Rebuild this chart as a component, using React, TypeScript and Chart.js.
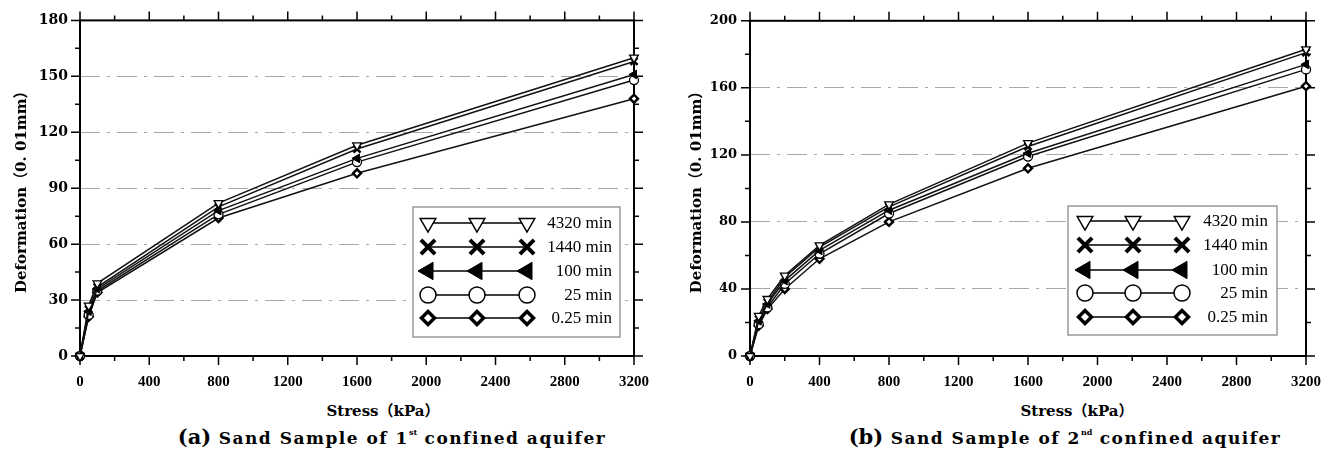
import React, { useEffect, useRef } from 'react';
import { Chart, registerables } from 'chart.js';
import { drawPoint } from 'chart.js/helpers';

Chart.register(...registerables);

// ---------- data ----------
const seriesLabels = ['4320 min', '1440 min', '100 min', '25 min', '0.25 min'];

const leftStress = [0, 50, 100, 800, 1600, 3200];
const left4320 = [0, 27, 39, 82, 113, 160];
const left1440 = [0, 25, 37, 80, 111, 158];
const left100 = [0, 24, 36, 78, 106, 151];
const left25 = [0, 22, 35, 76, 104, 148];
const left025 = [0, 21, 34, 74, 98, 138];

const rightStress = [0, 50, 100, 200, 400, 800, 1600, 3200];
const right4320 = [0, 24, 34, 48, 66, 90.5, 127, 183];
const right1440 = [0, 22, 32, 47, 65, 89, 125, 181];
const right100 = [0, 21, 31, 45, 63, 87, 121, 174];
const right25 = [0, 19, 29, 43, 61, 85, 119, 171];
const right025 = [0, 18, 28, 40, 58, 80, 112, 161];

const xTickStep = 400;
const xMax = 3200;
const leftYMax = 180;
const leftYStep = 30;
const rightYMax = 200;
const rightYStep = 40;

const yTitle = 'Deformation（0. 01mm）';
const xTitle = 'Stress（kPa）';

// ---------- styles ----------
const markers = [
  { style: 'triangle', rot: 180, fill: '#fff', bw: 1.3, r: 5, lr: 9, lbw: 1.5 },
  { style: 'crossRot', rot: 0, fill: '#000', bw: 2.6, r: 5, lr: 10, lbw: 4 },
  { style: 'triangle', rot: 270, fill: '#000', bw: 1, r: 5, lr: 10, lbw: 1 },
  { style: 'circle', rot: 0, fill: '#fff', bw: 1.3, r: 4.5, lr: 8, lbw: 1.5 },
  { style: 'rectRot', rot: 0, fill: '#fff', bw: 2.4, r: 4, lr: 6.5, lbw: 3.5 },
];

const SERIF_WIDE = "'DejaVu Serif', 'Noto Sans CJK SC', serif";
const SERIF = "'Liberation Serif', 'Times New Roman', serif";

const framePlugin = {
  id: 'frame',
  beforeDatasetsDraw(chart: any, _args: any, opts: any) {
    const { ctx, chartArea: a, scales } = chart;
    const x = scales.x;
    const y = scales.y;
    ctx.save();
    ctx.strokeStyle = '#000';
    ctx.lineWidth = 1.5;
    ctx.setLineDash([]);
    ctx.beginPath();
    const xm = opts.xMinor;
    for (let i = 0; i * xm <= x.max + 1e-9; i++) {
      const px = x.getPixelForValue(i * xm);
      const len = i % 2 === 0 ? 9 : 5;
      ctx.moveTo(px, a.bottom);
      ctx.lineTo(px, a.bottom + len);
      ctx.moveTo(px, a.top);
      ctx.lineTo(px, a.top - len);
    }
    const ym = opts.yMinor;
    for (let i = 0; i * ym <= y.max + 1e-9; i++) {
      const py = y.getPixelForValue(i * ym);
      const len = i % 2 === 0 ? 9 : 5;
      ctx.moveTo(a.left, py);
      ctx.lineTo(a.left - len, py);
      ctx.moveTo(a.right, py);
      ctx.lineTo(a.right + len, py);
    }
    ctx.stroke();
    ctx.lineWidth = 2;
    ctx.strokeRect(a.left, a.top, a.right - a.left, a.bottom - a.top);
    ctx.restore();
  },
};

const keyPlugin = {
  id: 'seriesKey',
  afterDraw(chart: any, _args: any, o: any) {
    const { ctx } = chart;
    ctx.save();
    ctx.setLineDash([]);
    ctx.fillStyle = '#fff';
    ctx.fillRect(o.x, o.y, o.w, o.h);
    ctx.strokeStyle = '#999';
    ctx.lineWidth = 1.5;
    ctx.strokeRect(o.x, o.y, o.w, o.h);
    seriesLabels.forEach((label, i) => {
      const ry = o.rows[i];
      ctx.strokeStyle = '#000';
      ctx.lineWidth = 1.5;
      ctx.beginPath();
      ctx.moveTo(o.mx[0], ry);
      ctx.lineTo(o.mx[2], ry);
      ctx.stroke();
      const m = markers[i];
      o.mx.forEach((mx: number) => {
        ctx.fillStyle = m.fill;
        ctx.strokeStyle = '#000';
        ctx.lineWidth = m.lbw;
        drawPoint(ctx, { pointStyle: m.style, rotation: m.rot, radius: m.lr, borderWidth: m.lbw } as any, mx, ry);
      });
      ctx.fillStyle = '#000';
      ctx.font = `17px ${SERIF}`;
      ctx.textAlign = 'right';
      ctx.textBaseline = 'middle';
      ctx.fillText(label, o.tx, ry + 1);
    });
    ctx.restore();
  },
};

type PanelCfg = {
  stress: number[];
  series: number[][];
  yMax: number;
  yStep: number;
  yWidth: number;
  padRight: number;
  yTickSize: number;
  yTickPad: number;
  titlePad: number;
  key: any;
};

function makeChart(canvas: HTMLCanvasElement, p: PanelCfg) {
  return new Chart(canvas, {
    type: 'line',
    data: {
      datasets: p.series.map((vals, i) => ({
        label: seriesLabels[i],
        data: p.stress.map((s, j) => ({ x: s, y: vals[j] })),
        borderColor: '#111',
        borderWidth: 1.5,
        tension: 0,
        pointStyle: markers[i].style as any,
        pointRotation: markers[i].rot,
        pointRadius: markers[i].r,
        pointBackgroundColor: markers[i].fill,
        pointBorderColor: '#000',
        pointBorderWidth: markers[i].bw,
        clip: false as any,
      })),
    },
    options: {
      responsive: false,
      animation: false,
      devicePixelRatio: 1,
      layout: { padding: { left: 0, top: 18, right: p.padRight, bottom: 0 } },
      plugins: {
        legend: { display: false },
        tooltip: { enabled: false },
        frame: { xMinor: xTickStep / 2, yMinor: p.yStep / 2 },
        seriesKey: p.key,
      } as any,
      scales: {
        x: {
          type: 'linear',
          min: 0,
          max: xMax,
          ticks: {
            stepSize: xTickStep,
            padding: 17,
            color: '#000',
            maxRotation: 0,
            autoSkip: false,
            callback: (v: any) => String(v),
            font: { family: SERIF, size: 15, weight: 'bold' },
          },
          grid: { display: false, drawTicks: false },
          border: { display: false },
          afterFit: (s: any) => {
            s.height = 44;
          },
        },
        y: {
          type: 'linear',
          min: 0,
          max: p.yMax,
          ticks: {
            stepSize: p.yStep,
            padding: p.yTickPad,
            color: '#000',
            callback: (v: any) => String(v),
            font: { family: SERIF_WIDE, size: p.yTickSize, weight: 'bold' },
          },
          grid: {
            drawTicks: false,
            lineWidth: 1,
            color: (c: any) =>
              c.tick && (c.tick.value === 0 || c.tick.value === p.yMax) ? 'rgba(0,0,0,0)' : '#a8a8a8',
          },
          border: { display: false, dash: [20, 7, 3, 7] },
          title: {
            display: true,
            text: yTitle,
            color: '#000',
            font: { family: SERIF_WIDE, size: 15, weight: 'bold' },
            padding: { top: p.titlePad, bottom: 0 },
          },
          afterFit: (s: any) => {
            s.width = p.yWidth;
          },
        },
      },
    } as any,
    plugins: [framePlugin, keyPlugin],
  });
}

function Caption({ letter, ord, sup, cx }: { letter: string; ord: string; sup: string; cx: number }) {
  return (
    <div
      style={{
        position: 'absolute',
        left: cx - 260,
        width: 520,
        top: 425,
        textAlign: 'center',
        fontFamily: SERIF_WIDE,
        fontWeight: 'bold',
        fontSize: 17,
        letterSpacing: 1.5,
        whiteSpace: 'nowrap',
        lineHeight: '24px',
        color: '#000',
      }}
    >
      <span style={{ fontSize: 21, letterSpacing: 0 }}>({letter})</span>
      {'  Sand Sample of ' + ord}
      <sup style={{ fontSize: 8, letterSpacing: 0, verticalAlign: 'top', lineHeight: '14px' }}>{sup}</sup>
      {' confined aquifer'}
    </div>
  );
}

function XTitle({ cx }: { cx: number }) {
  return (
    <div
      style={{
        position: 'absolute',
        left: cx - 100,
        width: 200,
        top: 401,
        textAlign: 'center',
        fontFamily: SERIF_WIDE,
        fontWeight: 'bold',
        fontSize: 15,
        lineHeight: '20px',
        color: '#000',
      }}
    >
      {xTitle}
    </div>
  );
}

export default function App() {
  const leftRef = useRef<HTMLCanvasElement>(null);
  const rightRef = useRef<HTMLCanvasElement>(null);

  useEffect(() => {
    const c1 = makeChart(leftRef.current!, {
      stress: leftStress,
      series: [left4320, left1440, left100, left25, left025],
      yMax: leftYMax,
      yStep: leftYStep,
      yWidth: 80,
      padRight: 35,
      yTickSize: 14,
      yTickPad: 12,
      titlePad: 13,
      key: { x: 413, y: 207, w: 207, h: 130, rows: [223, 247, 271, 295, 318], mx: [428, 477, 527], tx: 612 },
    });
    const c2 = makeChart(rightRef.current!, {
      stress: rightStress,
      series: [right4320, right1440, right100, right25, right025],
      yMax: rightYMax,
      yStep: rightYStep,
      yWidth: 81,
      padRight: 32,
      yTickSize: 13,
      yTickPad: 13,
      titlePad: 19,
      key: { x: 399, y: 206, w: 209, h: 129, rows: [221, 245, 270, 293, 317], mx: [416, 464, 513], tx: 599 },
    });
    return () => {
      c1.destroy();
      c2.destroy();
    };
  }, []);

  return (
    <div style={{ position: 'absolute', left: 0, top: 0, width: 1338, height: 456, background: '#fff', overflow: 'hidden' }}>
      <canvas ref={leftRef} width={669} height={400} style={{ position: 'absolute', left: 0, top: 0 }} />
      <canvas ref={rightRef} width={669} height={400} style={{ position: 'absolute', left: 669, top: 0 }} />
      <XTitle cx={383} />
      <XTitle cx={1077} />
      <Caption letter="a" ord="1" sup="st" cx={392} />
      <Caption letter="b" ord="2" sup="nd" cx={1065} />
    </div>
  );
}
